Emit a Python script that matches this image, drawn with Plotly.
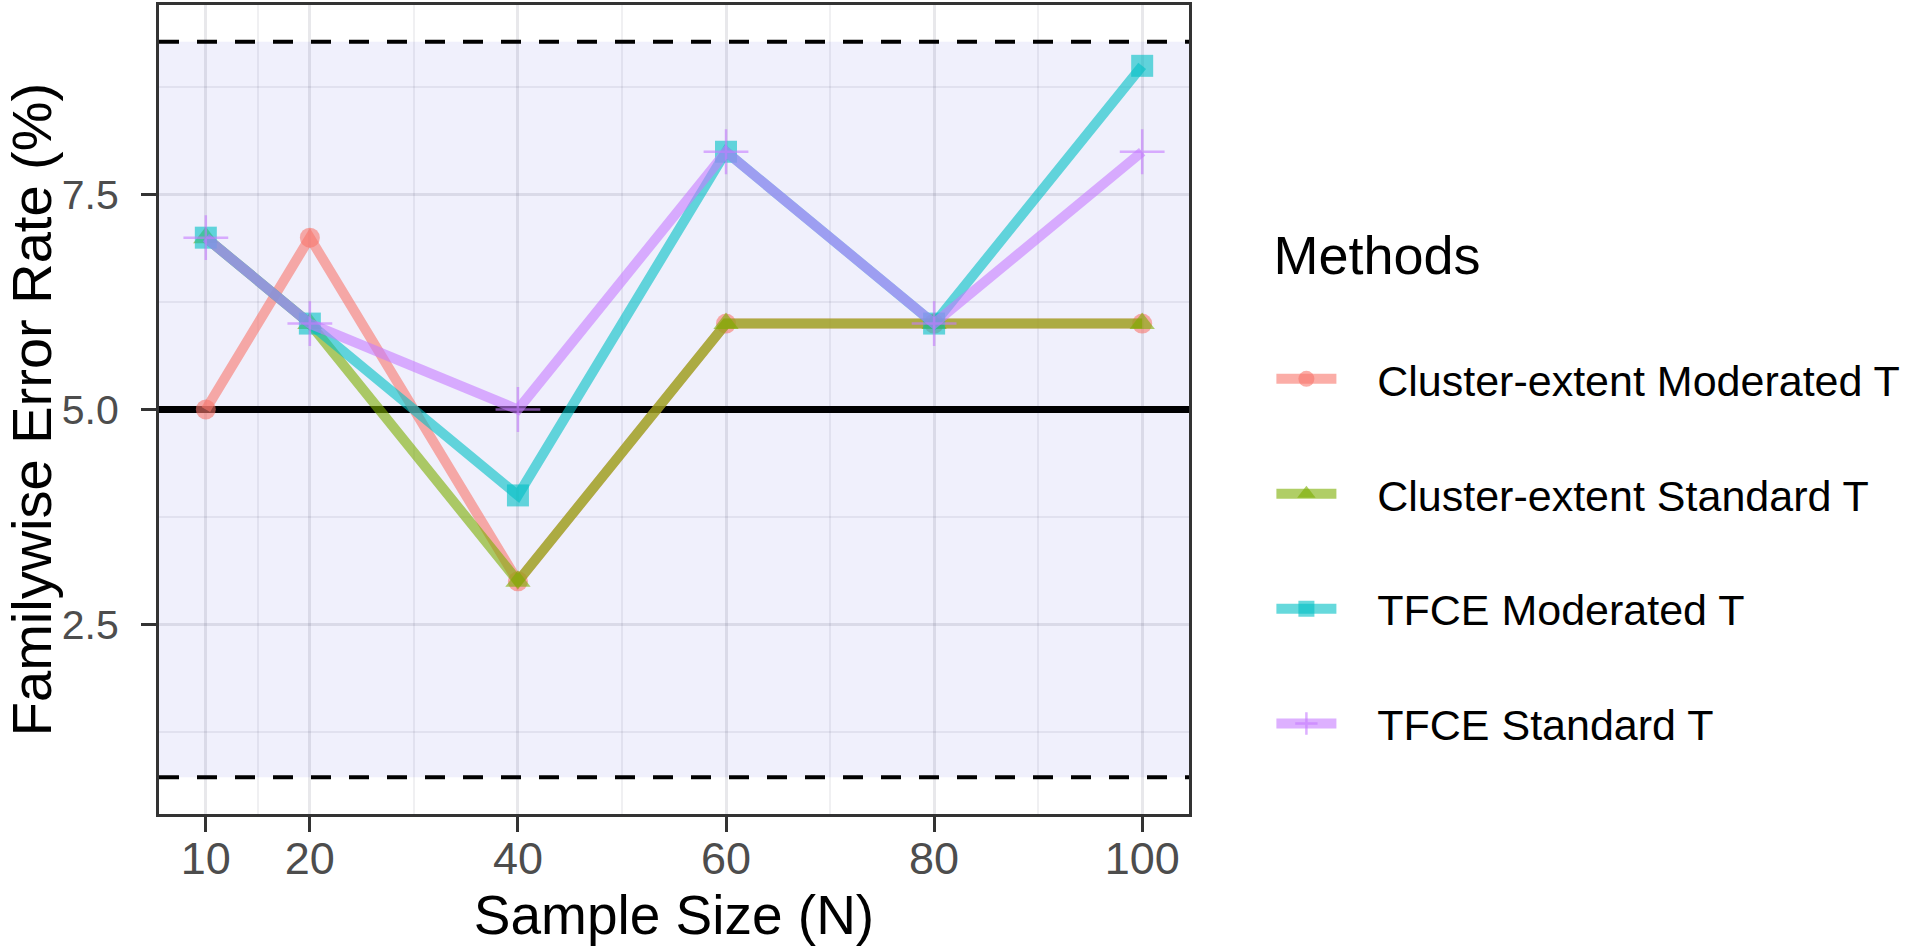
import plotly.graph_objects as go

# datos
sample_size = [10, 20, 40, 60, 80, 100]
metodos = ["Cluster-extent Moderated T", "Cluster-extent Standard T",
           "TFCE Moderated T", "TFCE Standard T"]
ce_moderated = [5, 7, 3, 6, 6, 6]
ce_standard = [7, 6, 3, 6, 6, 6]
tfce_moderated = [7, 6, 4, 8, 6, 9]
tfce_standard = [7, 6, 5, 8, 6, 8]

nivel_nominal = 5.0
banda_inferior = 0.72
banda_superior = 9.28

x_ticks = [10, 20, 40, 60, 80, 100]
x_minor = [15, 30, 50, 70, 90]
y_ticks = [2.5, 5.0, 7.5]
y_minor = [1.25, 3.75, 6.25, 8.75]

series = [ce_moderated, ce_standard, tfce_moderated, tfce_standard]
colores = ["248,118,109", "124,174,0", "0,191,196", "199,124,255"]
simbolos = ["circle", "triangle-up", "square", "cross-thin"]
tamanos = [20, 22, 22, 32]

FUENTE = "Liberation Sans, Arial, Helvetica, sans-serif"

fig = go.Figure()

for nombre, valores, col, sim, tam in zip(metodos, series, colores, simbolos, tamanos):
    rgba = f"rgba({col},0.6)"
    marker = dict(symbol=sim, size=tam, color=rgba)
    if sim == "cross-thin":
        marker["line"] = dict(color=rgba, width=2.5)
    else:
        marker["line"] = dict(width=0)
    fig.add_trace(
        go.Scatter(
            x=sample_size,
            y=valores,
            mode="lines+markers",
            name="\u00a0\u00a0\u00a0" + nombre,
            legendgroup=nombre,
            line=dict(color=rgba, width=10),
            marker=marker,
        )
    )

# banda de confianza y lineas de referencia
fig.add_shape(type="rect", xref="paper", x0=0, x1=1, y0=banda_inferior, y1=banda_superior,
              fillcolor="#F0F0FC", line=dict(width=0), layer="below")
for yv in [banda_inferior, banda_superior]:
    fig.add_shape(type="line", xref="paper", x0=0, x1=1, y0=yv, y1=yv,
                  line=dict(color="black", width=4, dash="20px,18px"), layer="between")
fig.add_shape(type="line", xref="paper", x0=0, x1=1, y0=nivel_nominal, y1=nivel_nominal,
              line=dict(color="black", width=7), layer="between")

fig.update_xaxes(
    range=[5.5, 104.5],
    tickmode="array", tickvals=x_ticks,
    ticks="outside", ticklen=15, tickwidth=3, tickcolor="#333333",
    ticklabelstandoff=-12,
    tickfont=dict(family=FUENTE, size=45, color="#4D4D4D"),
    showgrid=True, gridcolor="rgba(0,0,30,0.09)", gridwidth=3,
    minor=dict(tickmode="array", tickvals=x_minor, showgrid=True,
               gridcolor="rgba(0,0,30,0.06)", gridwidth=2, ticks=""),
    showline=True, linecolor="#333333", linewidth=3, mirror=True,
    zeroline=False,
    title=dict(text="Sample Size (N)", font=dict(family=FUENTE, size=55, color="black"), standoff=2),
)
fig.update_yaxes(
    range=[0.292, 9.708],
    tickmode="array", tickvals=y_ticks, ticktext=["2.5", "5.0", "7.5"],
    ticks="outside", ticklen=15, tickwidth=3, tickcolor="#333333",
    ticklabelstandoff=14,
    tickfont=dict(family=FUENTE, size=41, color="#4D4D4D"),
    showgrid=True, gridcolor="rgba(0,0,30,0.09)", gridwidth=3,
    minor=dict(tickmode="array", tickvals=y_minor, showgrid=True,
               gridcolor="rgba(0,0,30,0.06)", gridwidth=2, ticks=""),
    showline=True, linecolor="#333333", linewidth=3, mirror=True,
    zeroline=False,
    title=dict(text="Familywise Error Rate (%)", font=dict(family=FUENTE, size=56, color="black"), standoff=2),
)

fig.update_layout(
    width=1920, height=948,
    margin=dict(l=159, r=731, t=2, b=134),
    plot_bgcolor="white", paper_bgcolor="white",
    font=dict(family=FUENTE),
    legend=dict(
        title=dict(text="Methods<br> ", font=dict(family=FUENTE, size=54, color="black")),
        font=dict(family=FUENTE, size=43, color="black"),
        x=1.08, xanchor="left", y=0.754, yanchor="top",
        itemwidth=60, tracegroupgap=56,
        bgcolor="rgba(0,0,0,0)",
    ),
)

fig.write_html("out.html", config={"displayModeBar": False},
               post_script="document.body.style.margin='0';")
